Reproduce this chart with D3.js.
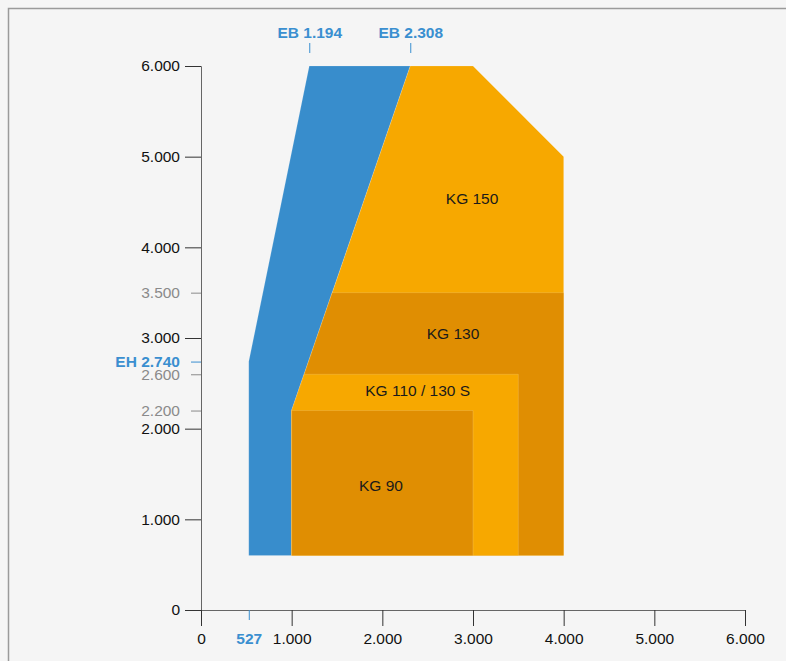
<!DOCTYPE html>
<html>
<head>
<meta charset="utf-8">
<script src="https://cdn.jsdelivr.net/npm/d3@7"></script>
<style>
html,body{margin:0;padding:0;background:#f5f5f5;}
svg{display:block;font-family:"Liberation Sans",Arial,Helvetica,sans-serif;}
</style>
</head>
<body>
<svg id="chart" width="786" height="661"></svg>
<script>
// ---- data ----
const xTicks = [0, 1000, 2000, 3000, 4000, 5000, 6000];
const yTicks = [0, 1000, 2000, 3000, 4000, 5000, 6000];
const yMinorTicks = [2200, 2600, 3500];
const ebMarks = [1194, 2308];
const ehMarks = [2740];
const xMarks = [527];

const shapeNames = ["EB", "KG 150", "KG 130", "KG 110 / 130 S", "KG 90"];
const ebPolygon    = [[527, 600], [527, 2740], [1194, 6000], [2308, 6000], [1000, 2200], [1000, 600]];
const kg150Polygon = [[2308, 6000], [3000, 6000], [4000, 5000], [4000, 600], [1000, 600], [1000, 2200]];
const kg130Polygon = [[1447, 3500], [4000, 3500], [4000, 600], [1000, 600], [1000, 2200]];
const kg110Polygon = [[1138, 2600], [3500, 2600], [3500, 600], [1000, 600], [1000, 2200]];
const kg90Polygon  = [[1000, 2200], [3000, 2200], [3000, 600], [1000, 600]];
const shapePolygons = [ebPolygon, kg150Polygon, kg130Polygon, kg110Polygon, kg90Polygon];
// label anchors (data units) for KG shapes
const labelAnchors = [null, [2990, 4540], [2780, 3045], [2390, 2425], [1985, 1370]];

// ---- styles ----
const colors = ["#388dcc", "#f7a800", "#e08e02", "#f7a800", "#e08e02"];
const blue = "#3a8fd0";
const gray = "#8a8a8a";
const fs = "15.5px";

const svg = d3.select("#chart");
// frame border
svg.append("path").attr("d", "M8.5,790 V8.5 H800")
  .attr("fill", "none").attr("stroke", "#9a9a9a").attr("stroke-width", 1.5);

const x = d3.scaleLinear().domain([0, 6000]).range([201, 745]);
const y = d3.scaleLinear().domain([0, 6000]).range([610, 66]);

const loc = d3.formatLocale({decimal: ",", thousands: ".", grouping: [3], currency: ["", "€"]});
const fmt = loc.format(",");

// shapes
const line = d3.line().x(d => x(d[0])).y(d => y(d[1]));
svg.append("g").selectAll("path").data(shapePolygons).join("path")
  .attr("d", d => line(d) + "Z")
  .attr("fill", (d, i) => colors[i])
  .attr("stroke", "#ffffff").attr("stroke-opacity", 0.25).attr("stroke-width", 0.6);

// shape labels
svg.append("g").selectAll("text").data(shapeNames.map((n, i) => ({n, a: labelAnchors[i]})).filter(d => d.a)).join("text")
  .attr("x", d => x(d.a[0])).attr("y", d => y(d.a[1]))
  .attr("text-anchor", "middle").attr("dy", "0.35em")
  .style("font-size", fs).attr("fill", "#1a1a1a")
  .text(d => d.n);

// y axis main
const gy = svg.append("g").attr("transform", "translate(201,0)")
  .call(d3.axisLeft(y).tickValues(yTicks).tickSize(16).tickPadding(5).tickFormat(fmt));
gy.select(".domain").attr("stroke", "#666");
gy.selectAll(".tick line").attr("stroke", "#333");
gy.selectAll(".tick text").style("font-size", fs).attr("fill", "#111").attr("font-family", null);

// y minor ticks
const gym = svg.append("g").attr("transform", "translate(201,0)")
  .call(d3.axisLeft(y).tickValues(yMinorTicks).tickSize(10).tickPadding(11).tickFormat(fmt));
gym.select(".domain").remove();
gym.selectAll(".tick line").attr("stroke", gray);
gym.selectAll(".tick text").style("font-size", fs).attr("fill", gray).attr("font-family", null);

// EH tick
const gye = svg.append("g").attr("transform", "translate(201,0)")
  .call(d3.axisLeft(y).tickValues(ehMarks).tickSize(10).tickPadding(11).tickFormat(d => "EH " + fmt(d)));
gye.select(".domain").remove();
gye.selectAll(".tick line").attr("stroke", blue);
gye.selectAll(".tick text").style("font-size", fs).style("font-weight", "bold").attr("fill", blue).attr("font-family", null);

// x axis main
const gx = svg.append("g").attr("transform", "translate(0,610)")
  .call(d3.axisBottom(x).tickValues(xTicks).tickSize(16).tickPadding(7).tickFormat(fmt));
gx.select(".domain").attr("stroke", "#666");
gx.selectAll(".tick line").attr("stroke", "#333");
gx.selectAll(".tick text").style("font-size", fs).attr("fill", "#111").attr("font-family", null);

// x mark 527
const gxm = svg.append("g").attr("transform", "translate(0,610)")
  .call(d3.axisBottom(x).tickValues(xMarks).tickSize(10).tickPadding(13).tickFormat(fmt));
gxm.select(".domain").remove();
gxm.selectAll(".tick line").attr("stroke", blue);
gxm.selectAll(".tick text").style("font-size", fs).style("font-weight", "bold").attr("fill", blue).attr("font-family", null);

// EB marks on top
const gt = svg.append("g").attr("transform", "translate(0,53)")
  .call(d3.axisTop(x).tickValues(ebMarks).tickSize(10).tickPadding(5).tickFormat(d => "EB " + fmt(d)));
gt.select(".domain").remove();
gt.selectAll(".tick line").attr("stroke", blue);
gt.selectAll(".tick text").style("font-size", fs).style("font-weight", "bold").attr("fill", blue).attr("font-family", null);
</script>
</body>
</html>
